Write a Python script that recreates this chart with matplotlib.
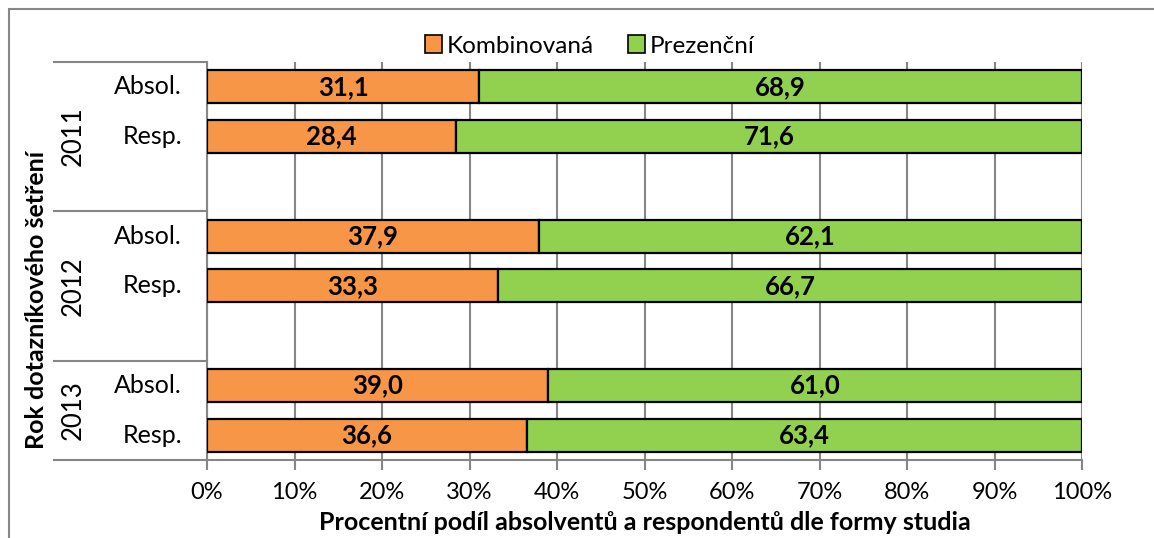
"""Stacked horizontal bars: share of combined vs. full-time study form by survey year."""

import matplotlib as mpl
import matplotlib.pyplot as plt
import numpy as np
from matplotlib.patches import Patch, Rectangle
from matplotlib.transforms import blended_transform_factory

ORANGE = "#f79646"
GREEN = "#92d050"
AXIS = "#868686"
INK = "#000000"

YEARS = ["2011", "2012", "2013"]
ROW_LABELS = ["Absol.", "Resp.", "", "Absol.", "Resp.", "", "Absol.", "Resp."]
KOMBINOVANA = [31.1, 28.4, np.nan, 37.9, 33.3, np.nan, 39.0, 36.6]
PREZENCNI = [68.9, 71.6, np.nan, 62.1, 66.7, np.nan, 61.0, 63.4]
SERIES_NAMES = ["Kombinovaná", "Prezenční"]
X_TICKS = list(range(0, 101, 10))

mpl.rcParams.update({
    "font.family": ["Lato", "DejaVu Sans"],
    "font.size": 18,
})

fig = plt.figure(figsize=(11.54, 5.38), dpi=100)
ax = fig.add_axes([207 / 1154, 1 - 460 / 538, 875 / 1154, 398 / 538])

y = np.arange(len(ROW_LABELS))
komb = np.array(KOMBINOVANA)
prez = np.array(PREZENCNI)
mask = ~np.isnan(komb)

ax.barh(y[mask], komb[mask], height=0.66, color=ORANGE, edgecolor=INK,
        linewidth=1.6, zorder=3)
ax.barh(y[mask], prez[mask], left=komb[mask], height=0.66, color=GREEN,
        edgecolor=INK, linewidth=1.6, zorder=3)

for yi, k, p in zip(y[mask], komb[mask], prez[mask]):
    ax.text(k / 2, yi, f"{k:.1f}".replace(".", ","), ha="center", va="center",
            fontsize=18.5, fontweight="bold", zorder=4)
    ax.text(k + p / 2, yi, f"{p:.1f}".replace(".", ","), ha="center",
            va="center", fontsize=18.5, fontweight="bold", zorder=4)

ax.set_xlim(0, 100)
ax.set_ylim(len(ROW_LABELS) - 0.5, -0.5)
ax.set_xticks(X_TICKS, [f"{t}%" for t in X_TICKS], fontsize=17)
ax.set_yticks([])
ax.tick_params(axis="x", length=7, width=1.5, color=AXIS, pad=9)
ax.grid(axis="x", color=AXIS, linewidth=1.5, zorder=0)
for side in ("top", "right"):
    ax.spines[side].set_visible(False)
for side in ("left", "bottom"):
    ax.spines[side].set_color(AXIS)
    ax.spines[side].set_linewidth(1.5)

# multi-level category axis drawn by hand
trans = blended_transform_factory(ax.transAxes, ax.transData)
left_edge = -(207 - 54) / 875
for b in (-0.5, 2.5, 5.5, 7.5):
    ax.plot([left_edge, 0], [b, b], color=AXIS, linewidth=1.5,
            transform=trans, clip_on=False)
for yi, lab in zip(y, ROW_LABELS):
    if lab:
        ax.text(-25 / 875, yi, lab, transform=trans, ha="right", va="center",
                fontsize=18)
group_centres = [1.0, 4.0, 6.5]
for yc, yr in zip(group_centres, YEARS):
    ax.text(-(207 - 73) / 875, yc, yr, transform=trans, ha="center",
            va="center", rotation=90, fontsize=18.5)

fig.text(37 / 1154, 1 - 300 / 538, "Rok dotazníkového šetření", rotation=90,
         ha="center", va="center", fontsize=18, fontweight="bold")
fig.text(645 / 1154, 1 - 523 / 538,
         "Procentní podíl absolventů a respondentů dle formy studia",
         ha="center", va="center", fontsize=18, fontweight="bold")

handles = [Patch(facecolor=ORANGE, edgecolor=INK, linewidth=1.2),
           Patch(facecolor=GREEN, edgecolor=INK, linewidth=1.2)]
fig.legend(handles, SERIES_NAMES, loc="center", ncol=2,
           bbox_to_anchor=(590 / 1154, 1 - 46 / 538), frameon=False,
           handlelength=0.7, handleheight=0.7, handletextpad=0.2,
           columnspacing=1.4, fontsize=17.5)

# outer chart frame (runs off the right and bottom edges)
fig.patches.append(Rectangle((9 / 1154, -0.05), 1.2, 1 - 9 / 538 + 0.05,
                             transform=fig.transFigure, fill=False,
                             edgecolor=AXIS, linewidth=1.5))

fig.savefig("out.png", dpi=100)
